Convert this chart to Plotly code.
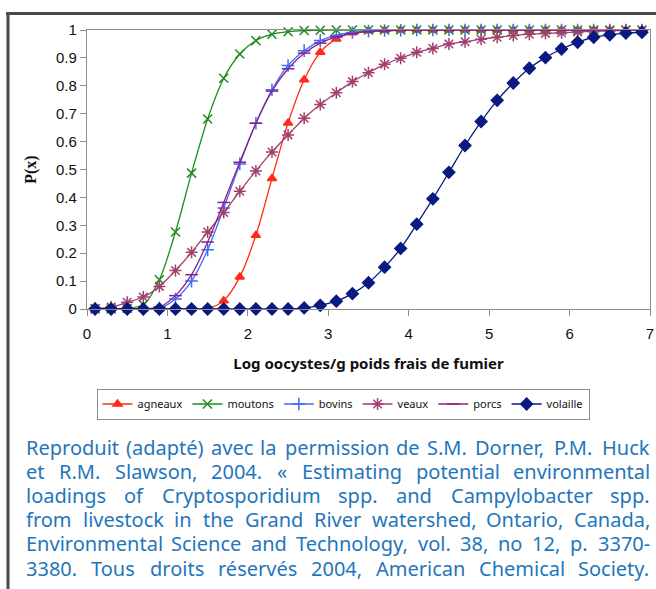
import plotly.graph_objects as go

x_vals = [0.1, 0.3, 0.5, 0.7, 0.9, 1.1, 1.3, 1.5, 1.7, 1.9, 2.1, 2.3, 2.5, 2.7, 2.9,
          3.1, 3.3, 3.5, 3.7, 3.9, 4.1, 4.3, 4.5, 4.7, 4.9, 5.1, 5.3, 5.5, 5.7, 5.9,
          6.1, 6.3, 6.5, 6.7, 6.9]

agneaux = [0, 0, 0, 0, 0, 0, 0, 0.002, 0.03, 0.115, 0.264, 0.468, 0.667, 0.822, 0.92,
           0.968, 0.99, 0.997, 0.999, 1, 1, 1, 1, 1, 1, 1, 1, 1, 1, 1,
           1, 1, 1, 1, 1]
moutons = [0, 0, 0.003, 0.015, 0.105, 0.276, 0.487, 0.681, 0.827, 0.914, 0.962, 0.985, 0.994, 0.998, 0.999,
           1, 1, 1, 1, 1, 1, 1, 1, 1, 1, 1, 1, 1, 1, 1,
           1, 1, 1, 1, 1]
bovins = [0, 0, 0, 0, 0.003, 0.036, 0.1, 0.212, 0.362, 0.52, 0.666, 0.786, 0.873, 0.926, 0.962,
          0.981, 0.991, 0.996, 0.998, 0.999, 1, 1, 1, 1, 1, 1, 1, 1, 1, 1,
          1, 1, 1, 1, 1]
veaux = [0.002, 0.007, 0.024, 0.043, 0.081, 0.138, 0.203, 0.276, 0.346, 0.422, 0.495, 0.563, 0.624, 0.684, 0.733,
         0.775, 0.815, 0.847, 0.877, 0.899, 0.92, 0.934, 0.95, 0.958, 0.967, 0.974, 0.98, 0.985, 0.988, 0.99,
         0.993, 0.995, 0.997, 0.999, 0.999]
porcs = [0, 0, 0, 0.001, 0.007, 0.048, 0.123, 0.24, 0.382, 0.526, 0.666, 0.781, 0.861, 0.917, 0.953,
         0.975, 0.987, 0.994, 0.997, 0.999, 1, 1, 1, 1, 1, 1, 1, 1, 1, 1,
         1, 1, 1, 1, 1]
volaille = [0, 0, 0, 0, 0, 0, 0, 0, 0, 0, 0, 0, 0, 0.004, 0.013,
            0.028, 0.055, 0.094, 0.15, 0.217, 0.304, 0.395, 0.49, 0.586, 0.672, 0.748, 0.81, 0.863, 0.901, 0.932,
            0.956, 0.974, 0.983, 0.989, 0.992]

series_names = ["agneaux", "moutons", "bovins", "veaux", "porcs", "volaille"]
series_values = [agneaux, moutons, bovins, veaux, porcs, volaille]
series_colors = ["#FF2A14", "#1E8C1E", "#3D6BFF", "#A0406E", "#8A208A", "#0A1A80"]
series_symbols = ["triangle-up", "x-thin-open", "cross-thin-open", "asterisk-open", "line-ew-open", "diamond"]
series_sizes = [8, 9, 9, 10, 9, 9]

x_title = "Log oocystes/g poids frais de fumier"
y_title = "P(x)"
caption_lines = [
    "Reproduit (adapté) avec la permission de S.M. Dorner, P.M. Huck",
    "et R.M. Slawson, 2004. « Estimating potential environmental",
    "loadings of Cryptosporidium spp. and Campylobacter spp.",
    "from livestock in the Grand River watershed, Ontario, Canada,",
    "Environmental Science and Technology, vol. 38, no 12, p. 3370-",
    "3380. Tous droits réservés 2004, American Chemical Society.",
]

W, H = 656, 589
L, R, T, B = 87, 650, 30, 309


def px(xp):
    return (xp - L) / (R - L)


def py(yp):
    return (B - yp) / (B - T)


# approximate Noto Sans advance widths (per 1000 em) used to justify the caption
CW = {
    'a': 561, 'b': 615, 'c': 480, 'd': 615, 'e': 564, 'f': 344, 'g': 615, 'h': 618, 'i': 258,
    'j': 258, 'k': 534, 'l': 258, 'm': 935, 'n': 618, 'o': 605, 'p': 615, 'q': 615, 'r': 413,
    's': 479, 't': 361, 'u': 618, 'v': 508, 'w': 786, 'x': 529, 'y': 510, 'z': 470, 'é': 564,
    'A': 639, 'B': 648, 'C': 632, 'D': 729, 'E': 556, 'F': 522, 'G': 728, 'H': 738, 'I': 300,
    'M': 907, 'N': 754, 'O': 779, 'P': 603, 'R': 618, 'S': 549, 'T': 556,
    '.': 268, ',': 268, '(': 296, ')': 296, '-': 322, '«': 497,
}
for dch in "0123456789":
    CW[dch] = 572


def word_w(word, size):
    return sum(CW.get(ch, 560) for ch in word) * size / 1000.0 * 0.985


CAP_SIZE = 20
CAP_LEFT, CAP_RIGHT = 25, 648
CAP_Y0, CAP_DY = 447, 24.2

fig = go.Figure()
for name, vals, col, sym, sz in zip(series_names, series_values, series_colors, series_symbols, series_sizes):
    fig.add_trace(go.Scatter(
        x=x_vals, y=vals, name=name, mode="lines+markers",
        line=dict(color=col, width=1.3, shape="spline", smoothing=0.8),
        marker=dict(symbol=sym, size=sz, color=col, line=dict(color=col, width=1.5)),
        cliponaxis=False,
    ))

shapes = [
    dict(type="line", xref="paper", yref="paper", x0=px(6), x1=px(657), y0=py(13.5), y1=py(13.5),
         line=dict(color="#4a4a4a", width=3)),
    dict(type="line", xref="paper", yref="paper", x0=px(8), x1=px(8), y0=py(12), y1=py(590),
         line=dict(color="#4a4a4a", width=3)),
]

annotations = []
for i, line in enumerate(caption_lines):
    words = line.split(" ")
    widths = [word_w(w_, CAP_SIZE) for w_ in words]
    gap = (CAP_RIGHT - CAP_LEFT - sum(widths)) / (len(words) - 1)
    xpos = CAP_LEFT
    for w_, ww in zip(words, widths):
        annotations.append(dict(
            text=w_, xref="paper", yref="paper", x=px(xpos), y=py(CAP_Y0 + i * CAP_DY),
            xanchor="left", yanchor="middle", showarrow=False, borderpad=0,
            font=dict(family="Noto Sans", size=CAP_SIZE, color="#1F76BC"),
        ))
        xpos += ww + gap

fig.update_layout(
    width=W, height=H,
    margin=dict(l=L, r=W - R, t=T, b=H - B, autoexpand=False),
    paper_bgcolor="white", plot_bgcolor="white",
    showlegend=True,
    legend=dict(orientation="h", x=px(343), y=py(404), xanchor="center", yanchor="middle",
                bordercolor="#8c8c8c", borderwidth=1, font=dict(family="Noto Sans", size=11, color="#111"),
                itemwidth=30, tracegroupgap=0),
    shapes=shapes,
    annotations=annotations,
    xaxis=dict(range=[0, 7], dtick=1, tick0=0, showgrid=False, zeroline=False,
               showline=True, linecolor="#8c8c8c", linewidth=1.3, mirror=True,
               ticks="outside", ticklen=6, tickcolor="#8c8c8c", ticklabelstandoff=5,
               tickfont=dict(family="Liberation Sans", size=15, color="#111"),
               title=dict(text="<b>" + x_title + "</b>", font=dict(family="Noto Sans", size=15, color="#111"),
                          standoff=17)),
    yaxis=dict(range=[0, 1], dtick=0.1, tick0=0, showgrid=False, zeroline=False,
               showline=True, linecolor="#8c8c8c", linewidth=1.3, mirror=True,
               ticks="outside", ticklen=6, tickcolor="#8c8c8c",
               tickfont=dict(family="Liberation Sans", size=15, color="#111"),
               title=dict(text="<b>" + y_title + "</b>", font=dict(family="Liberation Serif", size=16, color="#111"),
                          standoff=15)),
)

fig.write_html("out.html", config={"displayModeBar": False},
               post_script="document.body.style.margin='0';document.body.style.overflow='hidden';")
